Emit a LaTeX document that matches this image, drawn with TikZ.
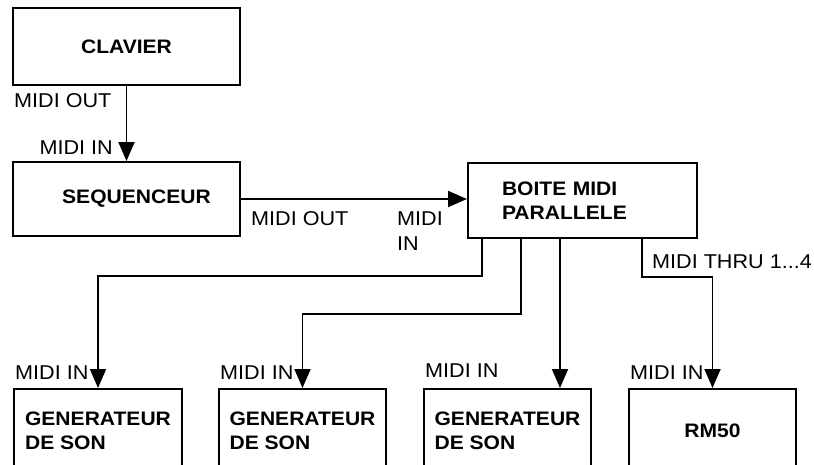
\documentclass[tikz,border=0pt]{standalone}
\usepackage{fontspec}
\setmainfont[FakeStretch=1.08]{Liberation Sans}
\usetikzlibrary{arrows.meta}
\begin{document}
\begin{tikzpicture}[x=1pt,y=-1pt,
  font=\fontsize{20}{24.5}\selectfont,
  box/.style={draw, line width=2pt, font=\fontsize{19.5}{24.5}\selectfont\bfseries, inner sep=0pt},
  lbl/.style={inner sep=0pt},
  conn/.style={line width=1.9pt},
  arr/.style={conn, -{Triangle[length=19pt,width=16pt]}}]
\useasboundingbox (0,0) rectangle (814,464);
\clip (0,0) rectangle (814,464);
\fill[white] (0,0) rectangle (814,464);
% boxes
\node[box, minimum width=227pt, minimum height=77pt] (clav) at (126.5,46.5) {CLAVIER};
\node[box, minimum width=227pt, minimum height=74pt] (seq) at (126.5,199) {\hspace*{20pt}SEQUENCEUR};
\node[box, minimum width=229pt, minimum height=75pt, inner xsep=34pt, text width=161pt, align=left] (boite) at (582.5,200.5) {BOITE MIDI\\PARALLELE};
\node[box, minimum width=168pt, minimum height=84pt, align=left] (gen1) at (98,431) {GENERATEUR\\DE SON};
\node[box, minimum width=167pt, minimum height=84pt, align=left] (gen2) at (302.5,431) {GENERATEUR\\DE SON};
\node[box, minimum width=167pt, minimum height=84pt, align=left] (gen3) at (507.5,431) {GENERATEUR\\DE SON};
\node[box, minimum width=167pt, minimum height=84pt] (rm) at (712.5,431) {RM50};
% labels
\node[lbl, anchor=west] (l1) at (14,101) {MIDI OUT};
\node[lbl, anchor=east] (l2) at (113,148) {MIDI IN};
\node[lbl, anchor=west] (l3) at (251,219) {MIDI OUT};
\node[lbl, anchor=north west, align=left] (l4) at (397,212) {MIDI\\IN};
\node[lbl, anchor=west] (l5) at (652,262) {MIDI THRU 1...4};
\node[lbl, anchor=west] (l6) at (15,373) {MIDI IN};
\node[lbl, anchor=west] (l7) at (220,373) {MIDI IN};
\node[lbl, anchor=west] (l8) at (425,371) {MIDI IN};
\node[lbl, anchor=west] (l9) at (630,373) {MIDI IN};
% connectors
\draw[arr] (clav) -- (seq);
\draw[arr] (seq.east) -- (seq.east -| boite.west);
\draw[arr] ([xshift=15pt]boite.south west) -- ++(0,37) -| (gen1.north);
\draw[arr] ([xshift=54pt]boite.south west) -- ++(0,75) -| (gen2.north);
\draw[arr] ([xshift=93pt]boite.south west) -- ([xshift=137pt]gen3.north west);
\draw[arr] ([xshift=175pt]boite.south west) -- ++(0,38) -| (rm.north);
\end{tikzpicture}
\end{document}
